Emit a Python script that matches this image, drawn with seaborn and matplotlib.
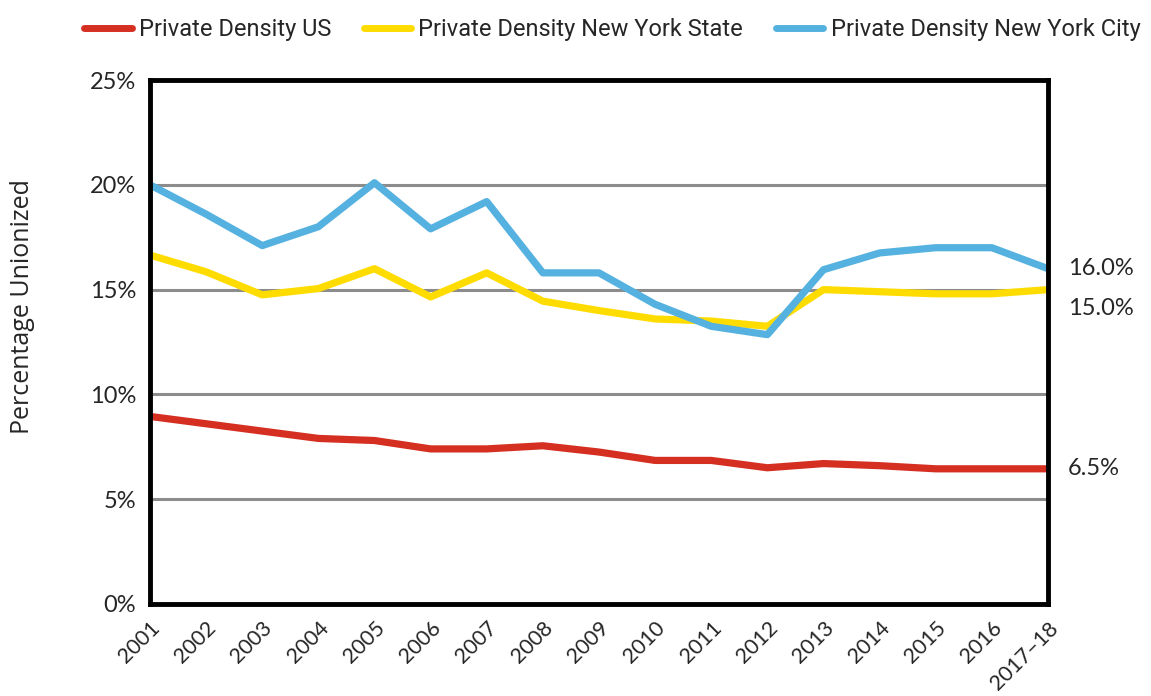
import pandas as pd
import matplotlib
matplotlib.use("Agg")
import matplotlib.pyplot as plt
import matplotlib.transforms as mtransforms
import seaborn as sns

# Datos (porcentaje de afiliación sindical, sector privado)
years = ["2001", "2002", "2003", "2004", "2005", "2006", "2007", "2008", "2009",
         "2010", "2011", "2012", "2013", "2014", "2015", "2016", "2017–18"]
us = [8.95, 8.6, 8.25, 7.9, 7.8, 7.4, 7.4, 7.55, 7.25,
      6.85, 6.85, 6.5, 6.7, 6.6, 6.45, 6.45, 6.45]
nys = [16.65, 15.85, 14.75, 15.05, 16.0, 14.65, 15.8, 14.45, 14.0,
       13.6, 13.5, 13.25, 15.0, 14.9, 14.8, 14.8, 15.0]
nyc = [20.0, 18.6, 17.1, 18.0, 20.1, 17.9, 19.2, 15.8, 15.8,
       14.3, 13.25, 12.85, 15.95, 16.75, 17.0, 17.0, 16.0]
series_names = ["Private Density US", "Private Density New York State",
                "Private Density New York City"]
end_labels = ["6.5%", "15.0%", "16.0%"]
y_ticks = [0, 5, 10, 15, 20, 25]

colors = ["#D52F22", "#FFDC00", "#55B1DF"]

df = pd.DataFrame({
    "year": years * 3,
    "value": us + nys + nyc,
    "serie": [series_names[0]] * len(years) + [series_names[1]] * len(years)
             + [series_names[2]] * len(years),
})

sns.set_style("white")
plt.rcParams["font.family"] = ["Lato", "DejaVu Sans"]

fig = plt.figure(figsize=(11.51, 6.96), dpi=100)
ax = fig.add_axes([0.1303, 0.1322, 0.7802, 0.7528])

# Cuadrícula gris detrás de las líneas
for t in y_ticks[1:-1]:
    ax.axhline(t, color="#8c8c8c", lw=2.2, zorder=1)

sns.lineplot(data=df, x="year", y="value", hue="serie", palette=colors,
             linewidth=5.2, sort=False, ax=ax, legend=False, zorder=3)

ax.set_xlim(0, len(years) - 1)
ax.set_ylim(0, 25)
ax.set_yticks(y_ticks)
ax.set_yticklabels([f"{t}%" for t in y_ticks], fontsize=17)
ax.set_xticks(range(len(years)))
ax.set_xticklabels(years, fontsize=15.5, rotation=45, ha="right",
                   rotation_mode="anchor")
ax.tick_params(axis="both", length=0)
ax.tick_params(axis="x", pad=10)
ax.tick_params(axis="y", pad=10)
ax.set_xlabel("")
ax.set_ylabel("Percentage Unionized", fontsize=18, family=["Open Sans", "DejaVu Sans"])
ax.yaxis.set_label_coords(-0.128, 0.567)

for side in ["left", "right", "top", "bottom"]:
    ax.spines[side].set_visible(True)
    ax.spines[side].set_color("black")
    ax.spines[side].set_linewidth(3.5)
    ax.spines[side].set_zorder(5)

# Etiquetas de valor final a la derecha
trans = mtransforms.blended_transform_factory(ax.transAxes, ax.transData)
ends = [us[-1], nys[-1] - 0.9, nyc[-1]]
for lab, yv in zip(end_labels, ends):
    ax.text(1.022, yv, lab, transform=trans, fontsize=17, va="center", ha="left")

# Leyenda superior
handles = [plt.Line2D([], [], color=c, lw=5) for c in colors]
fig.legend(handles, series_names, loc="upper center", ncol=3,
           bbox_to_anchor=(0.532, 1.005), frameon=False,
           handlelength=2.0, handletextpad=0.3, columnspacing=1.4,
           prop={"family": ["Liberation Sans Narrow", "Roboto", "DejaVu Sans"], "size": 17})

fig.savefig("out.png", dpi=100, facecolor="white")
